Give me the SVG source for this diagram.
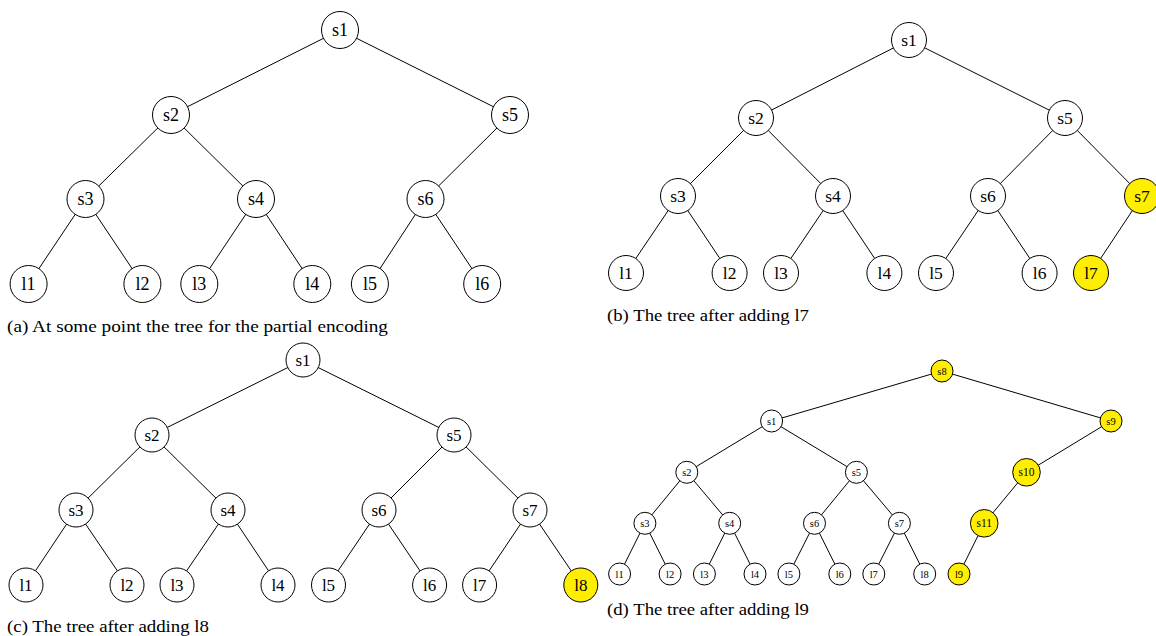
<svg xmlns="http://www.w3.org/2000/svg" width="1156" height="636" viewBox="0 0 1156 636">
  <style>
    .edge { stroke: #000; stroke-width: 1; fill: none; }
    .node { fill: #fff; stroke: #000; stroke-width: 1; }
    .new { fill: #FFEE00; stroke: #000; stroke-width: 1; }
    .lbl { font-family: "Liberation Serif", serif; text-anchor: middle; fill: #000; }
    .la { font-size: 18px; }
    .lb { font-size: 17.5px; }
    .lc { font-size: 17px; }
    .ld { font-size: 10.5px; }
    .ldl { font-size: 11.5px; }
    .cap { font-family: "Liberation Serif", serif; font-size: 17px; fill: #000; }
  </style>
  <rect width="1156" height="636" fill="#fff"/>

  <!-- (a) partial encoding tree -->
  <g id="panel-a">
    <g id="a-edges">
      <line class="edge" x1="340" y1="30" x2="171" y2="115"/>
      <line class="edge" x1="340" y1="30" x2="510" y2="115"/>
      <line class="edge" x1="171" y1="115" x2="85.5" y2="199"/>
      <line class="edge" x1="171" y1="115" x2="256" y2="199"/>
      <line class="edge" x1="510" y1="115" x2="425.5" y2="199"/>
      <line class="edge" x1="85.5" y1="199" x2="28.6" y2="284"/>
      <line class="edge" x1="85.5" y1="199" x2="142.4" y2="284"/>
      <line class="edge" x1="256" y1="199" x2="199.3" y2="284"/>
      <line class="edge" x1="256" y1="199" x2="312.3" y2="284"/>
      <line class="edge" x1="425.5" y1="199" x2="369.9" y2="284"/>
      <line class="edge" x1="425.5" y1="199" x2="482.2" y2="284"/>
    </g>
    <g id="a-s1"><circle class="node" cx="340" cy="30" r="18.5"/><text class="lbl la" x="340" y="30" dy="0.35em">s1</text></g>
    <g id="a-s2"><circle class="node" cx="171" cy="115" r="18.5"/><text class="lbl la" x="171" y="115" dy="0.35em">s2</text></g>
    <g id="a-s5"><circle class="node" cx="510" cy="115" r="18.5"/><text class="lbl la" x="510" y="115" dy="0.35em">s5</text></g>
    <g id="a-s3"><circle class="node" cx="85.5" cy="199" r="18.5"/><text class="lbl la" x="85.5" y="199" dy="0.35em">s3</text></g>
    <g id="a-s4"><circle class="node" cx="256" cy="199" r="18.5"/><text class="lbl la" x="256" y="199" dy="0.35em">s4</text></g>
    <g id="a-s6"><circle class="node" cx="425.5" cy="199" r="18.5"/><text class="lbl la" x="425.5" y="199" dy="0.35em">s6</text></g>
    <g id="a-l1"><circle class="node" cx="28.6" cy="284" r="18.5"/><text class="lbl la" x="28.6" y="284" dy="0.35em">l1</text></g>
    <g id="a-l2"><circle class="node" cx="142.4" cy="284" r="18.5"/><text class="lbl la" x="142.4" y="284" dy="0.35em">l2</text></g>
    <g id="a-l3"><circle class="node" cx="199.3" cy="284" r="18.5"/><text class="lbl la" x="199.3" y="284" dy="0.35em">l3</text></g>
    <g id="a-l4"><circle class="node" cx="312.3" cy="284" r="18.5"/><text class="lbl la" x="312.3" y="284" dy="0.35em">l4</text></g>
    <g id="a-l5"><circle class="node" cx="369.9" cy="284" r="18.5"/><text class="lbl la" x="369.9" y="284" dy="0.35em">l5</text></g>
    <g id="a-l6"><circle class="node" cx="482.2" cy="284" r="18.5"/><text class="lbl la" x="482.2" y="284" dy="0.35em">l6</text></g>
    <text class="cap" x="7" y="332" textLength="381" lengthAdjust="spacingAndGlyphs">(a) At some point the tree for the partial encoding</text>
  </g>

  <!-- (b) after adding l7 -->
  <g id="panel-b">
    <g id="b-edges">
      <line class="edge" x1="909" y1="40" x2="756" y2="118"/>
      <line class="edge" x1="909" y1="40" x2="1065" y2="118"/>
      <line class="edge" x1="756" y1="118" x2="678" y2="196"/>
      <line class="edge" x1="756" y1="118" x2="833" y2="196"/>
      <line class="edge" x1="1065" y1="118" x2="988" y2="196"/>
      <line class="edge" x1="1065" y1="118" x2="1142" y2="196"/>
      <line class="edge" x1="678" y1="196" x2="626" y2="273"/>
      <line class="edge" x1="678" y1="196" x2="729.6" y2="273"/>
      <line class="edge" x1="833" y1="196" x2="781" y2="273"/>
      <line class="edge" x1="833" y1="196" x2="884.4" y2="273"/>
      <line class="edge" x1="988" y1="196" x2="936" y2="273"/>
      <line class="edge" x1="988" y1="196" x2="1039.6" y2="273"/>
      <line class="edge" x1="1142" y1="196" x2="1091" y2="273"/>
    </g>
    <g id="b-s1"><circle class="node" cx="909" cy="40" r="17.5"/><text class="lbl lb" x="909" y="40" dy="0.35em">s1</text></g>
    <g id="b-s2"><circle class="node" cx="756" cy="118" r="17.5"/><text class="lbl lb" x="756" y="118" dy="0.35em">s2</text></g>
    <g id="b-s5"><circle class="node" cx="1065" cy="118" r="17.5"/><text class="lbl lb" x="1065" y="118" dy="0.35em">s5</text></g>
    <g id="b-s3"><circle class="node" cx="678" cy="196" r="17.5"/><text class="lbl lb" x="678" y="196" dy="0.35em">s3</text></g>
    <g id="b-s4"><circle class="node" cx="833" cy="196" r="17.5"/><text class="lbl lb" x="833" y="196" dy="0.35em">s4</text></g>
    <g id="b-s6"><circle class="node" cx="988" cy="196" r="17.5"/><text class="lbl lb" x="988" y="196" dy="0.35em">s6</text></g>
    <g id="b-s7"><circle class="new" cx="1142" cy="196" r="17.5"/><text class="lbl lb" x="1142" y="196" dy="0.35em">s7</text></g>
    <g id="b-l1"><circle class="node" cx="626" cy="273" r="17.5"/><text class="lbl lb" x="626" y="273" dy="0.35em">l1</text></g>
    <g id="b-l2"><circle class="node" cx="729.6" cy="273" r="17.5"/><text class="lbl lb" x="729.6" y="273" dy="0.35em">l2</text></g>
    <g id="b-l3"><circle class="node" cx="781" cy="273" r="17.5"/><text class="lbl lb" x="781" y="273" dy="0.35em">l3</text></g>
    <g id="b-l4"><circle class="node" cx="884.4" cy="273" r="17.5"/><text class="lbl lb" x="884.4" y="273" dy="0.35em">l4</text></g>
    <g id="b-l5"><circle class="node" cx="936" cy="273" r="17.5"/><text class="lbl lb" x="936" y="273" dy="0.35em">l5</text></g>
    <g id="b-l6"><circle class="node" cx="1039.6" cy="273" r="17.5"/><text class="lbl lb" x="1039.6" y="273" dy="0.35em">l6</text></g>
    <g id="b-l7"><circle class="new" cx="1091" cy="273" r="17.5"/><text class="lbl lb" x="1091" y="273" dy="0.35em">l7</text></g>
    <text class="cap" x="607" y="321" textLength="202" lengthAdjust="spacingAndGlyphs">(b) The tree after adding l7</text>
  </g>

  <!-- (c) after adding l8 -->
  <g id="panel-c">
    <g id="c-edges">
      <line class="edge" x1="303" y1="360" x2="152" y2="435"/>
      <line class="edge" x1="303" y1="360" x2="454" y2="435"/>
      <line class="edge" x1="152" y1="435" x2="76" y2="510"/>
      <line class="edge" x1="152" y1="435" x2="228" y2="510"/>
      <line class="edge" x1="454" y1="435" x2="379" y2="510"/>
      <line class="edge" x1="454" y1="435" x2="530" y2="510"/>
      <line class="edge" x1="76" y1="510" x2="26" y2="585"/>
      <line class="edge" x1="76" y1="510" x2="127" y2="585"/>
      <line class="edge" x1="228" y1="510" x2="177" y2="585"/>
      <line class="edge" x1="228" y1="510" x2="278" y2="585"/>
      <line class="edge" x1="379" y1="510" x2="328.5" y2="585"/>
      <line class="edge" x1="379" y1="510" x2="429.6" y2="585"/>
      <line class="edge" x1="530" y1="510" x2="479.6" y2="585"/>
      <line class="edge" x1="530" y1="510" x2="580.8" y2="585"/>
    </g>
    <g id="c-s1"><circle class="node" cx="303" cy="360" r="17"/><text class="lbl lc" x="303" y="360" dy="0.35em">s1</text></g>
    <g id="c-s2"><circle class="node" cx="152" cy="435" r="17"/><text class="lbl lc" x="152" y="435" dy="0.35em">s2</text></g>
    <g id="c-s5"><circle class="node" cx="454" cy="435" r="17"/><text class="lbl lc" x="454" y="435" dy="0.35em">s5</text></g>
    <g id="c-s3"><circle class="node" cx="76" cy="510" r="17"/><text class="lbl lc" x="76" y="510" dy="0.35em">s3</text></g>
    <g id="c-s4"><circle class="node" cx="228" cy="510" r="17"/><text class="lbl lc" x="228" y="510" dy="0.35em">s4</text></g>
    <g id="c-s6"><circle class="node" cx="379" cy="510" r="17"/><text class="lbl lc" x="379" y="510" dy="0.35em">s6</text></g>
    <g id="c-s7"><circle class="node" cx="530" cy="510" r="17"/><text class="lbl lc" x="530" y="510" dy="0.35em">s7</text></g>
    <g id="c-l1"><circle class="node" cx="26" cy="585" r="17"/><text class="lbl lc" x="26" y="585" dy="0.35em">l1</text></g>
    <g id="c-l2"><circle class="node" cx="127" cy="585" r="17"/><text class="lbl lc" x="127" y="585" dy="0.35em">l2</text></g>
    <g id="c-l3"><circle class="node" cx="177" cy="585" r="17"/><text class="lbl lc" x="177" y="585" dy="0.35em">l3</text></g>
    <g id="c-l4"><circle class="node" cx="278" cy="585" r="17"/><text class="lbl lc" x="278" y="585" dy="0.35em">l4</text></g>
    <g id="c-l5"><circle class="node" cx="328.5" cy="585" r="17"/><text class="lbl lc" x="328.5" y="585" dy="0.35em">l5</text></g>
    <g id="c-l6"><circle class="node" cx="429.6" cy="585" r="17"/><text class="lbl lc" x="429.6" y="585" dy="0.35em">l6</text></g>
    <g id="c-l7"><circle class="node" cx="479.6" cy="585" r="17"/><text class="lbl lc" x="479.6" y="585" dy="0.35em">l7</text></g>
    <g id="c-l8"><circle class="new" cx="580.8" cy="585" r="17"/><text class="lbl lc" x="580.8" y="585" dy="0.35em">l8</text></g>
    <text class="cap" x="7" y="632" textLength="202" lengthAdjust="spacingAndGlyphs">(c) The tree after adding l8</text>
  </g>

  <!-- (d) after adding l9 -->
  <g id="panel-d">
    <g id="d-edges">
      <line class="edge" x1="942" y1="371" x2="771.6" y2="421"/>
      <line class="edge" x1="942" y1="371" x2="1111" y2="421"/>
      <line class="edge" x1="771.6" y1="421" x2="686.8" y2="472.3"/>
      <line class="edge" x1="771.6" y1="421" x2="856.4" y2="472.3"/>
      <line class="edge" x1="1111" y1="421" x2="1026.5" y2="472.3"/>
      <line class="edge" x1="686.8" y1="472.3" x2="644.9" y2="523.3"/>
      <line class="edge" x1="686.8" y1="472.3" x2="729.7" y2="523.3"/>
      <line class="edge" x1="856.4" y1="472.3" x2="814.5" y2="523.3"/>
      <line class="edge" x1="856.4" y1="472.3" x2="899.4" y2="523.3"/>
      <line class="edge" x1="1026.5" y1="472.3" x2="984.2" y2="523.3"/>
      <line class="edge" x1="644.9" y1="523.3" x2="619.6" y2="574"/>
      <line class="edge" x1="644.9" y1="523.3" x2="670.1" y2="574"/>
      <line class="edge" x1="729.7" y1="523.3" x2="704.4" y2="574"/>
      <line class="edge" x1="729.7" y1="523.3" x2="755" y2="574"/>
      <line class="edge" x1="814.5" y1="523.3" x2="788.9" y2="574"/>
      <line class="edge" x1="814.5" y1="523.3" x2="839.8" y2="574"/>
      <line class="edge" x1="899.4" y1="523.3" x2="873.8" y2="574"/>
      <line class="edge" x1="899.4" y1="523.3" x2="924.7" y2="574"/>
      <line class="edge" x1="984.2" y1="523.3" x2="959" y2="574"/>
    </g>
    <g id="d-s8"><circle class="new" cx="942" cy="371" r="11"/><text class="lbl ld" x="942" y="371" dy="0.35em">s8</text></g>
    <g id="d-s1"><circle class="node" cx="771.6" cy="421" r="11"/><text class="lbl ld" x="771.6" y="421" dy="0.35em">s1</text></g>
    <g id="d-s9"><circle class="new" cx="1111" cy="421" r="11"/><text class="lbl ld" x="1111" y="421" dy="0.35em">s9</text></g>
    <g id="d-s2"><circle class="node" cx="686.8" cy="472.3" r="11"/><text class="lbl ld" x="686.8" y="472.3" dy="0.35em">s2</text></g>
    <g id="d-s5"><circle class="node" cx="856.4" cy="472.3" r="11"/><text class="lbl ld" x="856.4" y="472.3" dy="0.35em">s5</text></g>
    <g id="d-s10"><circle class="new" cx="1026.5" cy="472.3" r="13.8"/><text class="lbl ldl" x="1026.5" y="472.3" dy="0.35em">s10</text></g>
    <g id="d-s3"><circle class="node" cx="644.9" cy="523.3" r="11"/><text class="lbl ld" x="644.9" y="523.3" dy="0.35em">s3</text></g>
    <g id="d-s4"><circle class="node" cx="729.7" cy="523.3" r="11"/><text class="lbl ld" x="729.7" y="523.3" dy="0.35em">s4</text></g>
    <g id="d-s6"><circle class="node" cx="814.5" cy="523.3" r="11"/><text class="lbl ld" x="814.5" y="523.3" dy="0.35em">s6</text></g>
    <g id="d-s7"><circle class="node" cx="899.4" cy="523.3" r="11"/><text class="lbl ld" x="899.4" y="523.3" dy="0.35em">s7</text></g>
    <g id="d-s11"><circle class="new" cx="984.2" cy="523.3" r="13.8"/><text class="lbl ldl" x="984.2" y="523.3" dy="0.35em">s11</text></g>
    <g id="d-l1"><circle class="node" cx="619.6" cy="574" r="11"/><text class="lbl ld" x="619.6" y="574" dy="0.35em">l1</text></g>
    <g id="d-l2"><circle class="node" cx="670.1" cy="574" r="11"/><text class="lbl ld" x="670.1" y="574" dy="0.35em">l2</text></g>
    <g id="d-l3"><circle class="node" cx="704.4" cy="574" r="11"/><text class="lbl ld" x="704.4" y="574" dy="0.35em">l3</text></g>
    <g id="d-l4"><circle class="node" cx="755" cy="574" r="11"/><text class="lbl ld" x="755" y="574" dy="0.35em">l4</text></g>
    <g id="d-l5"><circle class="node" cx="788.9" cy="574" r="11"/><text class="lbl ld" x="788.9" y="574" dy="0.35em">l5</text></g>
    <g id="d-l6"><circle class="node" cx="839.8" cy="574" r="11"/><text class="lbl ld" x="839.8" y="574" dy="0.35em">l6</text></g>
    <g id="d-l7"><circle class="node" cx="873.8" cy="574" r="11"/><text class="lbl ld" x="873.8" y="574" dy="0.35em">l7</text></g>
    <g id="d-l8"><circle class="node" cx="924.7" cy="574" r="11"/><text class="lbl ld" x="924.7" y="574" dy="0.35em">l8</text></g>
    <g id="d-l9"><circle class="new" cx="959" cy="574" r="11"/><text class="lbl ld" x="959" y="574" dy="0.35em">l9</text></g>
    <text class="cap" x="607" y="615" textLength="202" lengthAdjust="spacingAndGlyphs">(d) The tree after adding l9</text>
  </g>
</svg>
